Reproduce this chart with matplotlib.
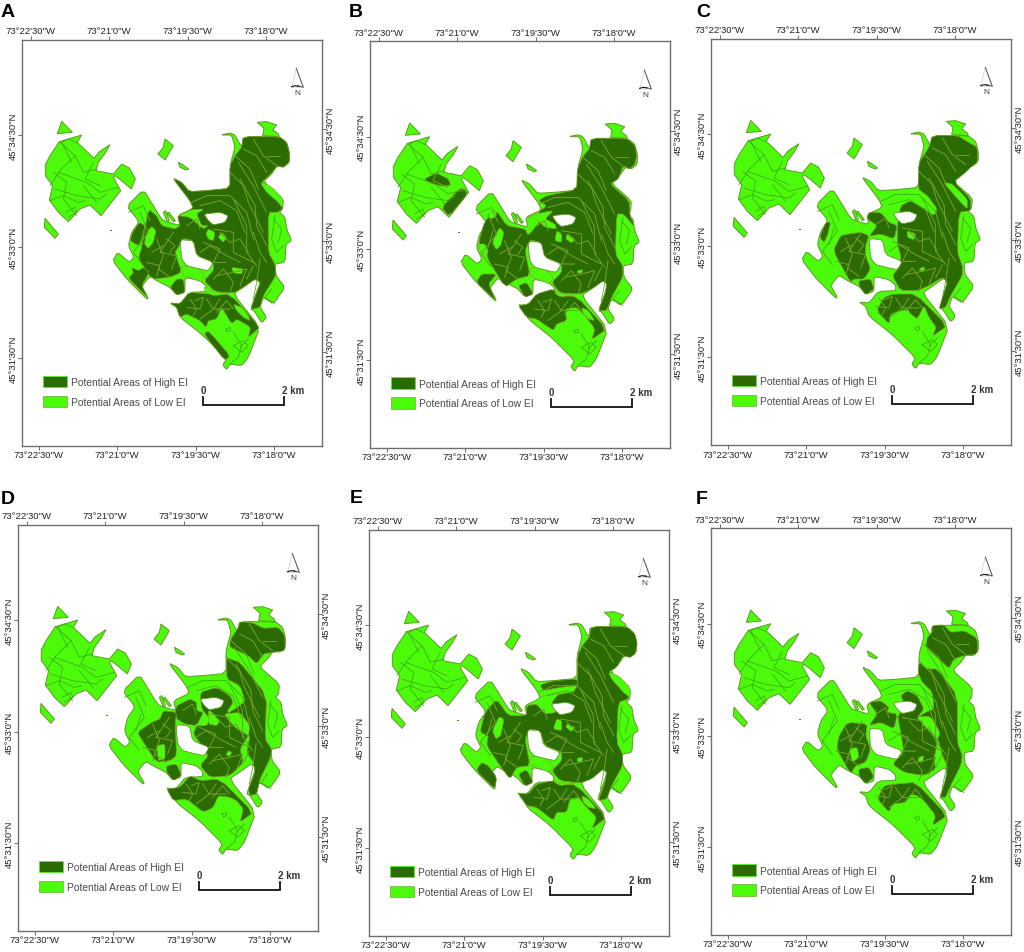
import matplotlib
matplotlib.use("Agg")
import matplotlib.pyplot as plt
from matplotlib.patches import Polygon
from matplotlib.path import Path

plt.rcParams["font.family"] = ["Liberation Sans", "DejaVu Sans"]

W, H = 1024, 953
DARK = "#2b6c02"
LIGHT = "#4cfb0a"
EDGE = "#5f9a22"
LINE_ON_DARK = "#7f9f2c"
LINE_ON_LIGHT = "#3aa010"
FRAME_W, FRAME_H = 899, 1220   # in 3x crop pixels

# crop origin and frame corner in the 3x crop
CROPS = {"A": (0, 0), "B": (340, 0), "C": (684, 0), "D": (0, 480), "E": (340, 480), "F": (684, 480)}
FRAMES = {"A": (67, 122), "B": (91, 127), "C": (82, 119), "D": (55, 137), "E": (88, 152), "F": (82, 148)}
LETTERS = {"A": (3, 52), "B": (25, 52), "C": (36, 52), "D": (3, 72), "E": (28, 68), "F": (36, 72)}

top_ticks = [25, 260, 496, 731]
bottom_ticks = [49, 284, 520, 755]
left_ticks = [286, 623, 956]
right_ticks = [268, 603, 938]
lon_labels = ["73°22'30\"W", "73°21'0\"W", "73°19'30\"W", "73°18'0\"W"]
lat_labels = ["45°34'30\"N", "45°33'0\"N", "45°31'30\"N"]
legend_labels = ["Potential Areas of High EI", "Potential Areas of Low EI"]

# ---- shared site outline, traced in panel A crop pixels ----
site_parts = [
    [(185, 367), (217, 400), (172, 404)],
    [(136, 497), (150, 470), (178, 428), (245, 408), (232, 430), (282, 478), (298, 458), (330, 437),
     (316, 462), (295, 490), (288, 515), (340, 525), (365, 495), (388, 507), (406, 540), (394, 570),
     (362, 543), (345, 530), (340, 535), (362, 575), (303, 650), (270, 618), (240, 630), (205, 668),
     (175, 640), (148, 603), (158, 560), (136, 530)],
    [(135, 658), (175, 705), (165, 718), (133, 685)],
    [(495, 420), (520, 440), (495, 483), (474, 465), (490, 445)],
    [(535, 490), (545, 495), (566, 510), (558, 513), (540, 505)],
    [(490, 640), (497, 635), (508, 665), (503, 672)],
    [(507, 640), (526, 665), (520, 668), (500, 642)],
    [(772, 370), (800, 368), (830, 378), (818, 392), (835, 405), (838, 413), (788, 410), (792, 388)],
    # main body
    [(518, 537), (545, 550), (568, 578), (620, 575), (690, 568), (690, 500), (705, 445), (695, 408),
     (662, 408), (690, 402), (705, 408), (725, 445), (730, 413), (838, 413), (860, 430), (868, 460),
     (868, 490), (850, 505), (832, 500), (815, 525), (790, 548), (850, 600), (848, 630), (838, 640),
     (855, 655), (860, 690), (875, 725), (858, 735), (855, 790), (825, 795), (828, 830), (855, 865),
     (820, 915), (790, 895), (780, 925), (800, 955), (785, 972), (762, 935), (752, 930), (770, 880),
     (780, 850), (765, 840), (730, 865), (700, 885), (780, 985), (745, 1075), (725, 1100), (690, 1095),
     (680, 1112), (668, 1098), (680, 1080), (610, 1010), (540, 955), (530, 925), (510, 912), (540, 915),
     (568, 880), (620, 878), (620, 862), (600, 845), (555, 835), (555, 880), (530, 888), (510, 865),
     (470, 845), (450, 832), (425, 862), (445, 898), (440, 900), (380, 840), (338, 785), (353, 760),
     (388, 790), (402, 775), (385, 740), (395, 700), (418, 668), (380, 622), (430, 572), (460, 620),
     (478, 650), (490, 665), (540, 680), (533, 650), (580, 628), (570, 605)],
]
site_holes = [
    [(612, 645), (660, 640), (685, 650), (675, 670), (640, 678), (625, 665)],
    [(540, 722), (580, 725), (590, 770), (640, 790), (625, 815), (600, 810), (560, 800), (545, 780)],
]
site_dot = [(331, 693), (336, 693), (336, 697), (331, 697)]

# ---- parcel boundaries, panel A crop pixels ----
parcel_lines = [
    [(178, 428), (225, 470), (180, 515), (150, 560)], [(232, 432), (205, 420), (185, 430), (215, 490)],
    [(175, 520), (260, 550), (300, 580), (355, 565)], [(165, 570), (230, 590), (300, 600), (320, 585)],
    [(150, 605), (190, 590), (235, 610), (255, 605)], [(200, 640), (225, 625), (230, 640), (205, 655)],
    [(225, 470), (250, 520), (290, 510)], [(160, 520), (200, 550), (190, 600), (230, 650)],
    [(280, 490), (255, 540), (300, 560)], [(250, 560), (290, 610)],
    [(715, 490), (760, 560), (800, 640)], [(720, 540), (765, 620), (770, 680), (800, 740)],
    [(760, 420), (790, 470), (830, 500)], [(730, 450), (770, 470), (800, 520)],
    [(700, 600), (740, 680), (740, 760), (770, 800)], [(575, 610), (620, 590), (690, 590), (740, 640), (760, 720)],
    [(600, 620), (660, 605), (710, 635), (735, 700)], [(470, 720), (490, 770), (475, 810), (510, 835)],
    [(520, 700), (480, 760), (530, 770), (515, 810)], [(435, 690), (420, 740)],
    [(570, 900), (590, 930), (580, 950)], [(620, 900), (640, 930), (600, 960)], [(660, 900), (640, 930), (690, 930)],
    [(700, 1000), (725, 1040), (715, 1075), (690, 1095)], [(745, 1020), (720, 1045)],
    [(678, 990), (690, 985), (692, 995), (682, 998), (678, 990)],
    [(700, 1040), (730, 1025), (745, 1040), (725, 1060), (700, 1040)],
    [(825, 650), (815, 720), (830, 760), (850, 740)], [(815, 870), (795, 895), (825, 915)],
    [(640, 690), (700, 700), (700, 760), (760, 790)], [(610, 730), (660, 750), (640, 790), (680, 790)],
    [(650, 830), (700, 820), (740, 810), (720, 860)], [(560, 680), (590, 660), (600, 690)],
    [(780, 780), (770, 850), (760, 900)], [(420, 640), (445, 700), (400, 760), (430, 800)],
    [(385, 640), (430, 620), (450, 665)],
    [(690, 520), (730, 560), (745, 610), (790, 700)], [(705, 470), (750, 510), (775, 570)],
    [(800, 470), (840, 470)], [(760, 700), (780, 760), (800, 790)], [(745, 760), (720, 720), (690, 730), (660, 700)],
    [(600, 760), (630, 740), (680, 770), (720, 790)], [(640, 840), (670, 810), (700, 850), (690, 880)],
    [(760, 800), (740, 840)], [(500, 720), (525, 740), (510, 760)], [(455, 760), (490, 740)],
    [(440, 790), (480, 800), (470, 830)], [(585, 905), (610, 895), (600, 930), (560, 925)],
    [(650, 940), (680, 905), (700, 930)], [(820, 660), (845, 690), (835, 730)],
]

# ---- High EI areas per panel, each in that panel's own crop pixels ----
high_a = [
    [(730, 413), (838, 413), (860, 430), (868, 460), (868, 490), (850, 505), (832, 500), (812, 525),
     (785, 550), (805, 580), (850, 625), (835, 640), (805, 640), (805, 760), (825, 795), (828, 830),
     (790, 890), (780, 925), (752, 932), (770, 880), (782, 850), (765, 840), (730, 865), (700, 882),
     (645, 878), (612, 845), (640, 815), (640, 792), (590, 770), (580, 725), (548, 718), (535, 745),
     (525, 760), (545, 820), (510, 835), (455, 840), (415, 780), (425, 745), (445, 630), (470, 650),
     (485, 680), (525, 690), (540, 680), (533, 650), (580, 628), (570, 605), (518, 537), (545, 550),
     (568, 578), (620, 575), (690, 568), (690, 500), (705, 470), (725, 445)],
    [(418, 670), (435, 680), (425, 720), (415, 740), (390, 725), (398, 700)],
    [(510, 865), (530, 840), (550, 840), (555, 880), (530, 888)],
    [(385, 838), (400, 822), (395, 805), (415, 815), (430, 805), (448, 820), (425, 860), (445, 898)],
    [(510, 912), (540, 915), (568, 880), (625, 885), (690, 885), (780, 985), (762, 1000), (745, 1015),
     (752, 985), (710, 960), (695, 975), (665, 925), (650, 960), (625, 965), (618, 985), (600, 965),
     (560, 945), (540, 955), (530, 925)],
    [(612, 1005), (625, 995), (690, 1070), (675, 1085)],
]
low_a = [
    [(535, 650), (575, 632), (612, 630), (590, 645), (605, 680), (625, 680), (610, 690), (570, 655)],
    [(625, 690), (645, 700), (640, 725), (625, 720), (618, 705)],
    [(665, 700), (680, 715), (670, 730), (655, 715)],
    [(455, 682), (468, 695), (460, 730), (445, 748), (433, 735), (440, 700)],
    [(695, 805), (730, 810), (725, 825), (700, 822)],
    [(780, 550), (810, 560), (850, 600), (845, 625), (835, 610), (800, 580)],
    [(700, 915), (725, 925), (745, 950), (750, 965), (730, 955), (710, 935)],
    [(545, 800), (590, 805), (615, 830), (605, 850), (570, 835), (548, 830)],
    [(612, 862), (645, 880), (690, 885), (640, 890), (615, 878)],
]

high_b = [
    [(754, 418), (860, 418), (885, 440), (890, 470), (885, 495), (870, 510), (850, 500), (835, 540),
     (810, 555), (868, 605), (870, 650), (885, 685), (850, 645), (830, 645), (826, 765), (848, 800),
     (848, 835), (815, 895), (800, 935), (775, 935), (795, 885), (800, 855), (790, 845), (755, 870),
     (720, 885), (660, 882), (635, 850), (665, 820), (665, 795), (615, 775), (600, 730), (570, 722),
     (555, 755), (570, 830), (530, 840), (495, 865), (440, 775), (445, 750), (415, 735), (430, 680),
     (440, 660), (470, 635), (500, 680), (555, 690), (565, 710), (605, 660), (595, 640), (620, 620),
     (595, 605), (620, 590), (710, 572), (712, 510), (730, 470), (748, 450)],
    [(535, 860), (560, 850), (580, 885), (555, 895)],
    [(408, 850), (425, 825), (470, 825), (445, 855), (468, 905)],
    [(535, 920), (565, 915), (590, 885), (640, 870), (650, 890), (710, 892), (800, 990), (755, 1022),
     (765, 990), (735, 950), (710, 925), (675, 930), (680, 965), (650, 975), (640, 995), (590, 960), (560, 955)],
    [(252, 540), (290, 522), (325, 540), (332, 558), (310, 562), (270, 552)],
    [(305, 625), (362, 565), (385, 582), (327, 652)],
]
low_b = [
    [(560, 655), (610, 640), (640, 635), (615, 660), (645, 675), (650, 690), (615, 685), (590, 660)],
    [(650, 695), (665, 705), (665, 730), (645, 725)],
    [(680, 705), (705, 720), (695, 732), (678, 720)],
    [(478, 685), (492, 700), (482, 740), (468, 752), (457, 730)],
    [(712, 815), (728, 812), (725, 822), (712, 822)],
    [(725, 925), (745, 935), (765, 965), (745, 960), (730, 945)],
    [(570, 805), (612, 808), (640, 835), (630, 855), (590, 840), (570, 830)],
    [(640, 870), (665, 885), (710, 885), (660, 895)],
    [(415, 735), (435, 735), (445, 760), (425, 770)],
    [(440, 650), (465, 630), (470, 650), (455, 660)],
]

high_c = [
    [(745, 410), (822, 410), (845, 425), (880, 445), (880, 490), (860, 505), (845, 520), (810, 548),
     (860, 600), (860, 635), (825, 640), (820, 760), (835, 800), (835, 830), (800, 890), (785, 925),
     (765, 930), (780, 880), (790, 850), (775, 835), (735, 860), (700, 875), (650, 875), (625, 830),
     (650, 800), (650, 770), (640, 735), (640, 680), (650, 620), (680, 605), (720, 630), (750, 650),
     (760, 630), (730, 590), (702, 570), (705, 490), (735, 445)],
    [(555, 640), (590, 640), (615, 670), (640, 680), (630, 720), (590, 705), (555, 712), (580, 680), (550, 660)],
    [(407, 715), (425, 670), (440, 670), (430, 710), (420, 730)],
    [(450, 750), (470, 710), (495, 705), (530, 700), (555, 710), (545, 740), (545, 770), (560, 810),
     (540, 840), (510, 840), (500, 850), (455, 770)],
    [(525, 845), (560, 840), (570, 870), (545, 888), (525, 860)],
    [(578, 935), (600, 895), (630, 885), (695, 885), (790, 980), (745, 1012), (757, 985), (735, 955),
     (720, 920), (700, 960), (680, 945), (670, 930), (620, 945), (615, 975)],
]
low_c = [
    [(780, 550), (805, 555), (850, 600), (850, 630), (830, 610), (795, 570)],
    [(670, 695), (695, 705), (690, 722), (670, 715)],
    [(712, 805), (722, 805), (720, 815), (705, 815)],
]

high_d = [
    [(720, 428), (760, 432), (790, 448), (835, 445), (855, 470), (855, 515), (820, 520), (790, 525),
     (770, 555), (745, 530), (690, 505), (690, 485), (715, 445)],
    [(680, 535), (690, 540), (720, 550), (800, 650), (795, 780), (815, 810), (810, 840), (780, 900),
     (770, 945), (750, 950), (745, 930), (765, 880), (760, 850), (740, 820), (750, 770), (720, 745),
     (680, 705), (720, 680), (735, 665), (720, 620), (680, 600)],
    [(600, 640), (650, 625), (690, 650), (700, 670), (680, 700), (730, 760), (745, 770), (720, 810),
     (730, 850), (690, 890), (630, 895), (600, 860), (625, 830), (605, 800), (580, 765), (590, 740),
     (620, 740), (630, 720), (605, 690)],
    [(530, 680), (570, 660), (590, 670), (590, 695), (610, 700), (590, 740), (555, 735), (530, 720), (525, 700)],
    [(412, 760), (455, 730), (480, 720), (490, 695), (530, 700), (525, 735), (530, 830), (510, 845),
     (470, 850), (430, 790)],
    [(500, 860), (530, 855), (545, 890), (520, 905), (500, 880)],
    [(500, 930), (540, 925), (570, 890), (600, 905), (660, 900), (760, 1000), (720, 1030), (730, 990),
     (710, 965), (690, 955), (655, 950), (640, 985), (610, 1000), (560, 960), (520, 965)],
]
low_d = [
    [(685, 815), (695, 820), (690, 832), (678, 828)],
    [(625, 690), (660, 725), (650, 740), (625, 735)],
    [(670, 705), (720, 700), (750, 740), (745, 770), (705, 745)],
    [(470, 800), (495, 795), (495, 840), (475, 845)],
]

high_e = [
    [(754, 443), (860, 443), (885, 465), (892, 495), (885, 525), (870, 535), (850, 530), (830, 565),
     (805, 580), (870, 625), (865, 660), (835, 670), (830, 790), (848, 825), (848, 860), (815, 920),
     (800, 960), (775, 965), (795, 910), (800, 880), (790, 870), (755, 900), (720, 912), (660, 905),
     (635, 875), (665, 845), (665, 820), (615, 800), (600, 755), (570, 750), (555, 780), (570, 860),
     (530, 865), (510, 900), (480, 860), (440, 800), (445, 770), (420, 760), (435, 700), (470, 660),
     (505, 710), (560, 710), (560, 680), (610, 665), (640, 650), (712, 635), (712, 530), (730, 495), (748, 475)],
    [(600, 618), (640, 605), (712, 600), (712, 620), (660, 625), (610, 635)],
    [(535, 885), (560, 872), (580, 910), (555, 922)],
    [(408, 875), (425, 850), (445, 860), (470, 895), (465, 930)],
    [(535, 945), (565, 945), (590, 915), (640, 905), (650, 915), (710, 918), (800, 1015), (755, 1050),
     (770, 1015), (735, 980), (715, 955), (690, 960), (680, 1000), (650, 1000), (640, 1025), (590, 985), (560, 980)],
]
low_e = [
    [(560, 680), (610, 650), (660, 640), (635, 670), (650, 700), (615, 705), (590, 675)],
    [(650, 720), (665, 725), (665, 755), (640, 750)],
    [(680, 735), (705, 745), (695, 758), (678, 745)],
    [(478, 712), (492, 722), (482, 770), (468, 780), (457, 755)],
    [(712, 838), (728, 835), (725, 848), (712, 848)],
    [(805, 580), (835, 590), (870, 625), (870, 655), (850, 640), (815, 600)],
    [(725, 950), (745, 960), (770, 990), (745, 985), (730, 970)],
    [(570, 832), (612, 835), (640, 862), (630, 880), (590, 865), (570, 858)],
    [(640, 905), (665, 912), (710, 912), (660, 920)],
]

high_f = [
    [(745, 440), (780, 438), (800, 460), (840, 455), (880, 478), (880, 525), (840, 530), (810, 540),
     (795, 568), (770, 545), (725, 505), (730, 475), (745, 460)],
    [(703, 585), (705, 550), (730, 570), (760, 570), (820, 650), (820, 790), (835, 830), (830, 860),
     (800, 920), (785, 955), (768, 955), (785, 900), (790, 860), (775, 830), (762, 780), (740, 740),
     (700, 715), (725, 700), (750, 690), (745, 640), (715, 610)],
    [(650, 650), (670, 635), (700, 650), (720, 690), (700, 715), (740, 760), (760, 790), (750, 840),
     (755, 870), (720, 890), (660, 880), (625, 855), (660, 820), (650, 760), (640, 705), (690, 690), (660, 670)],
    [(555, 670), (590, 665), (615, 685), (610, 700), (640, 705), (630, 750), (590, 730), (555, 740), (580, 705)],
    [(465, 770), (490, 730), (550, 735), (545, 770), (560, 810), (545, 850), (515, 860), (500, 885), (458, 810)],
    [(525, 870), (555, 865), (570, 895), (545, 915), (525, 890)],
    [(580, 960), (600, 920), (640, 915), (695, 910), (790, 1010), (745, 1040), (755, 1010), (720, 965),
     (700, 950), (680, 945), (665, 970), (625, 975), (615, 1000)],
]
low_f = [
    [(495, 810), (520, 805), (525, 835), (505, 850)],
    [(705, 835), (720, 830), (715, 850), (702, 848)],
    [(697, 713), (740, 712), (768, 760), (762, 780), (725, 745)],
]

high_areas = {"A": high_a, "B": high_b, "C": high_c, "D": high_d, "E": high_e, "F": high_f}
low_areas = {"A": low_a, "B": low_b, "C": low_c, "D": low_d, "E": low_e, "F": low_f}


def to_panel(points, origin):
    return [(x - origin[0], y - origin[1]) for x, y in points]


def rounded(points, cut=0.15):
    # light corner cutting so traced outlines don't look like straight segments
    new = []
    for i, (x0, y0) in enumerate(points):
        x1, y1 = points[(i + 1) % len(points)]
        new.append(((1 - cut) * x0 + cut * x1, (1 - cut) * y0 + cut * y1))
        new.append((cut * x0 + (1 - cut) * x1, cut * y0 + (1 - cut) * y1))
    return new


def draw_panel(fig, name):
    crop = CROPS[name]
    frame = FRAMES[name]
    left = crop[0] + frame[0] / 3
    top = crop[1] + frame[1] / 3
    ax = fig.add_axes([left / W, 1 - (top + FRAME_H / 3) / H, FRAME_W / 3 / W, FRAME_H / 3 / H])
    ax.set_xlim(0, FRAME_W)
    ax.set_ylim(FRAME_H, 0)

    base = FRAMES["A"]
    for part in site_parts:
        pts = to_panel(part, base)
        # only the big body gets rounded, the small parcels have sharp corners
        ax.add_patch(Polygon(rounded(pts) if len(pts) > 30 else pts, fc=LIGHT, ec=EDGE, lw=0.7))
    ax.add_patch(Polygon(to_panel(site_dot, base), fc="#5a7a20", ec="none"))

    for line in parcel_lines:
        xs, ys = zip(*to_panel(line, base))
        ax.plot(xs, ys, color=LINE_ON_LIGHT, lw=0.5)

    high_paths = []
    for poly in high_areas[name]:
        pts = rounded(to_panel(poly, frame))
        ax.add_patch(Polygon(pts, fc=DARK, ec=LINE_ON_DARK, lw=0.5))
        high_paths.append(Path(pts + [pts[0]], closed=True))
    clip = Path.make_compound_path(*high_paths)
    for line in parcel_lines:
        xs, ys = zip(*to_panel(line, base))
        drawn, = ax.plot(xs, ys, color=LINE_ON_DARK, lw=0.55)
        drawn.set_clip_path(clip, ax.transData)

    for poly in low_areas[name]:
        ax.add_patch(Polygon(rounded(to_panel(poly, frame)), fc=LIGHT, ec=LINE_ON_DARK, lw=0.4))
    for hole in site_holes:
        ax.add_patch(Polygon(rounded(to_panel(hole, base)), fc="white", ec=EDGE, lw=0.6))

    # legend and scale bar
    ax.add_patch(Polygon([(63, 1008), (133, 1008), (133, 1043), (63, 1043)], fc=DARK, ec=LIGHT, lw=0.5))
    ax.add_patch(Polygon([(63, 1068), (133, 1068), (133, 1103), (63, 1103)], fc=LIGHT, ec=EDGE, lw=0.4))
    ax.text(147, 1027, legend_labels[0], fontsize=7.4, color="#4a4a4a", va="center")
    ax.text(147, 1086, legend_labels[1], fontsize=7.4, color="#4a4a4a", va="center")
    ax.plot([543, 543, 785, 785], [1073, 1097, 1097, 1073], color="#111111", lw=1.3, solid_joinstyle="miter")
    ax.text(543, 1051, "0", fontsize=7, fontweight="bold", color="#333333", ha="center", va="center")
    ax.text(811, 1051, "2 km", fontsize=7, fontweight="bold", color="#333333", ha="center", va="center")

    # north arrow
    ax.add_patch(Polygon([(822, 86), (843, 143), (808, 143)], fc="white", ec="#cccccc", lw=0.5))
    ax.plot([822, 843, 826], [86, 143, 138], color="#555555", lw=0.7)
    ax.plot([808, 818, 830], [141, 138, 140], color="#111111", lw=0.8)
    ax.text(824, 159, "N", fontsize=6, color="#333333", ha="center", va="center")

    # graticule ticks
    ax.set_xticks(bottom_ticks, lon_labels)
    ax.set_yticks(left_ticks, lat_labels)
    style = dict(length=2.6, width=0.6, color="#555555", labelsize=6.8, labelcolor="#222222", pad=0.4)
    ax.tick_params(axis="both", **style)
    ax.tick_params(axis="y", labelrotation=90)
    for lab in ax.get_yticklabels():
        lab.set_va("center")
    top_ax = ax.secondary_xaxis("top")
    top_ax.set_xticks(top_ticks, lon_labels)
    top_ax.tick_params(**style)
    right_ax = ax.secondary_yaxis("right")
    right_ax.set_yticks(right_ticks, lat_labels)
    right_ax.tick_params(labelrotation=90, **style)
    for lab in right_ax.get_yticklabels():
        lab.set_va("center")
    for axis in (top_ax, right_ax):
        axis.spines[:].set_visible(False)
    for spine in ax.spines.values():
        spine.set_color("#6e6e6e")
        spine.set_linewidth(1.0)

    lx, ly = LETTERS[name]
    fig.text((crop[0] + lx / 3) / W, 1 - (crop[1] + ly / 3) / H, name, fontsize=14,
             fontweight="bold", color="black", ha="left", va="baseline")


fig = plt.figure(figsize=(W / 100, H / 100), dpi=100)
for panel in "ABCDEF":
    draw_panel(fig, panel)
fig.savefig("out.png", dpi=100)
